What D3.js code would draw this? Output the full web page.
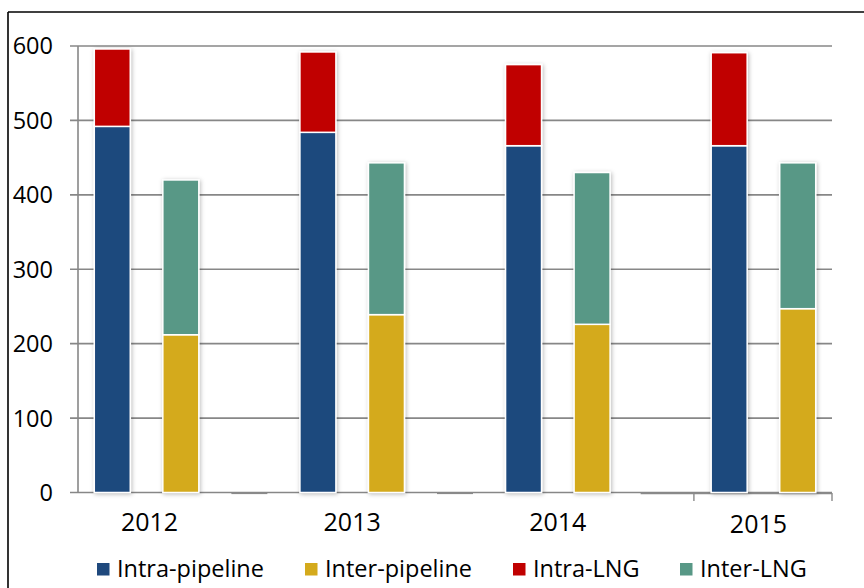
<!DOCTYPE html>
<html>
<head>
<meta charset="utf-8">
<script src="https://cdn.jsdelivr.net/npm/d3@7"></script>
<style>
  html, body { margin: 0; padding: 0; background: #fff; }
  svg { display: block; font-family: "Open Sans", sans-serif; }
</style>
</head>
<body>
<svg id="chart" width="864" height="588"></svg>
<script>
// Trade volumes per year (stacked: pipeline at the bottom, LNG on top)
const years = ["2012", "2013", "2014", "2015"];
const intraPipeline = [492, 484, 466, 466];
const intraLNG = [104, 108, 109, 125];
const interPipeline = [212, 239, 226, 247];
const interLNG = [208, 204, 204, 196];
const yTicks = [0, 100, 200, 300, 400, 500, 600];
const seriesNames = ["Intra-pipeline", "Inter-pipeline", "Intra-LNG", "Inter-LNG"];
const seriesColors = ["#1f497d", "#d4aa1c", "#c00000", "#589886"];

const svg = d3.select("#chart");

// Outer frame (top and left edges visible)
svg.append("line").attr("x1", 8).attr("x2", 864).attr("y1", 12).attr("y2", 12)
  .attr("stroke", "#000").attr("stroke-width", 1.6);
svg.append("line").attr("x1", 8).attr("x2", 8).attr("y1", 12).attr("y2", 588)
  .attr("stroke", "#000").attr("stroke-width", 1.6);

const defs = svg.append("defs");
const f = defs.append("filter").attr("id", "shadow")
  .attr("x", "-40%").attr("y", "-10%").attr("width", "180%").attr("height", "120%");
f.append("feDropShadow").attr("dx", 1).attr("dy", 1).attr("stdDeviation", 2.2)
  .attr("flood-color", "#000").attr("flood-opacity", 0.28);

const plotLeft = 78, plotRight = 832, plotTop = 46, plotBottom = 492.5;

// Each year holds an intra slot, an inter slot and a spacer slot (no spacer after the last year)
const slots = [];
years.forEach((yr, i) => {
  slots.push(yr + "-intra", yr + "-inter");
  if (i < years.length - 1) slots.push(yr + "-gap");
});

const x = d3.scaleBand().domain(slots).range([plotLeft, plotRight])
  .paddingInner(0.475).paddingOuter(0.2375);
const y = d3.scaleLinear().domain([0, 600]).range([plotBottom, plotTop]);

// Gridlines
svg.append("g").selectAll("line").data(yTicks).join("line")
  .attr("x1", plotLeft - 8).attr("x2", plotRight)
  .attr("y1", d => y(d)).attr("y2", d => y(d))
  .attr("stroke", "#878787").attr("stroke-width", 1.6);

// Vertical axis line
svg.append("line").attr("x1", plotLeft).attr("x2", plotLeft).attr("y1", plotTop).attr("y2", plotBottom)
  .attr("stroke", "#878787").attr("stroke-width", 1.6);

// Y tick labels
svg.append("g").selectAll("text").data(yTicks).join("text")
  .attr("x", 53).attr("y", d => y(d))
  .attr("dy", "0.36em")
  .attr("text-anchor", "end")
  .attr("font-size", 23.5)
  .attr("fill", "#000")
  .text(d => d);

// Baseline marks under spacer slots and the final year's axis bracket
const gapYears = years.slice(0, years.length - 1);
svg.append("g").selectAll("rect").data(gapYears.slice(0, gapYears.length - 1)).join("rect")
  .attr("x", d => x(d + "-gap"))
  .attr("y", plotBottom)
  .attr("width", x.bandwidth())
  .attr("height", 1.6)
  .attr("fill", "#8a8a8a");
const lastGap = gapYears[gapYears.length - 1];
svg.append("line")
  .attr("x1", x(lastGap + "-gap") - 2).attr("x2", plotRight)
  .attr("y1", plotBottom + 1).attr("y2", plotBottom + 1)
  .attr("stroke", "#8a8a8a").attr("stroke-width", 1.4);
const lastYear = years[years.length - 1];
const bracketStart = x(lastYear + "-intra") - x.step() * x.paddingInner() / 2 - 1;
[bracketStart, plotRight].forEach(px => {
  svg.append("line").attr("x1", px).attr("x2", px)
    .attr("y1", plotBottom + 0.5).attr("y2", plotBottom + 8.5)
    .attr("stroke", "#8a8a8a").attr("stroke-width", 1.4);
});

// Stacked bar segments
const segments = [];
years.forEach((yr, i) => {
  segments.push({ slot: yr + "-intra", y0: 0, y1: intraPipeline[i], color: seriesColors[0] });
  segments.push({ slot: yr + "-intra", y0: intraPipeline[i], y1: intraPipeline[i] + intraLNG[i], color: seriesColors[2] });
  segments.push({ slot: yr + "-inter", y0: 0, y1: interPipeline[i], color: seriesColors[1] });
  segments.push({ slot: yr + "-inter", y0: interPipeline[i], y1: interPipeline[i] + interLNG[i], color: seriesColors[3] });
});

svg.append("g").attr("filter", "url(#shadow)")
  .selectAll("rect").data(segments).join("rect")
  .attr("x", d => x(d.slot))
  .attr("width", x.bandwidth())
  .attr("y", d => y(d.y1))
  .attr("height", d => y(d.y0) - y(d.y1))
  .attr("fill", d => d.color)
  .attr("stroke", "#fff")
  .attr("stroke-width", 1.5);

// Year labels, centred under each pair of bars
svg.append("g").selectAll("text").data(years).join("text")
  .attr("x", (d, i) => (x(d + "-intra") + x(d + "-inter") + x.bandwidth()) / 2 + (i === 0 ? 3 : i === years.length - 1 ? -5 : 0))
  .attr("y", (d, i) => i === years.length - 1 ? 533 : 531)
  .attr("text-anchor", "middle")
  .attr("font-size", 25)
  .attr("fill", "#000")
  .text(d => d);

// Legend
const legendX = [97, 305, 513, 680];
const legend = svg.append("g").selectAll("g").data(seriesNames).join("g")
  .attr("transform", (d, i) => `translate(${legendX[i]},0)`);
legend.append("rect")
  .attr("x", 0).attr("y", 563).attr("width", 12.5).attr("height", 12.5)
  .attr("fill", (d, i) => seriesColors[i]);
legend.append("text")
  .attr("x", 20).attr("y", 577)
  .attr("font-size", 23.5)
  .attr("fill", "#000")
  .text(d => d);
</script>
</body>
</html>
